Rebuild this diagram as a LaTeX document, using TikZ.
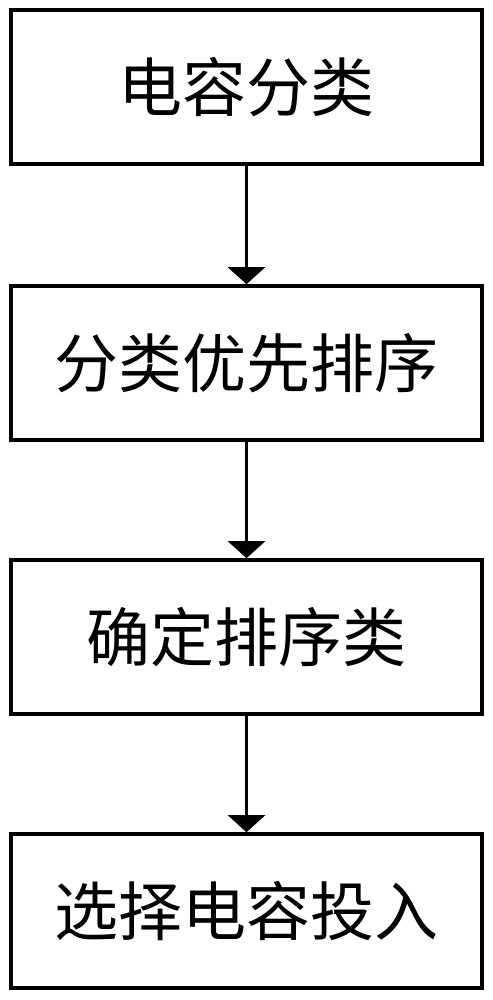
\documentclass[tikz,border=0pt]{standalone}
\usepackage{fontspec}
\newfontfamily\cjk{Noto Sans CJK SC}
\usetikzlibrary{arrows.meta}
\tikzset{
  stepbox/.style={draw,line width=3.6pt,minimum width=471pt,minimum height=154pt,
    inner sep=0pt,font=\cjk\fontsize{64}{72}\selectfont},
  arr/.style={line width=3pt,-{Triangle[width=37pt,length=17pt]}}
}
\begin{document}
\begin{tikzpicture}[x=1pt,y=-1pt]
  \useasboundingbox (0,0) rectangle (492,1000);
  \node[stepbox] (cls)  at (246.5,87)  {电容分类};
  \node[stepbox] (rank) at (246.5,363) {分类优先排序};
  \node[stepbox] (pick) at (246.5,637) {确定排序类};
  \node[stepbox] (put)  at (246.5,911) {选择电容投入};
  \foreach \a/\b in {cls/rank,rank/pick,pick/put}
     \draw[arr] (\a) -- (\b);
\end{tikzpicture}
\end{document}
